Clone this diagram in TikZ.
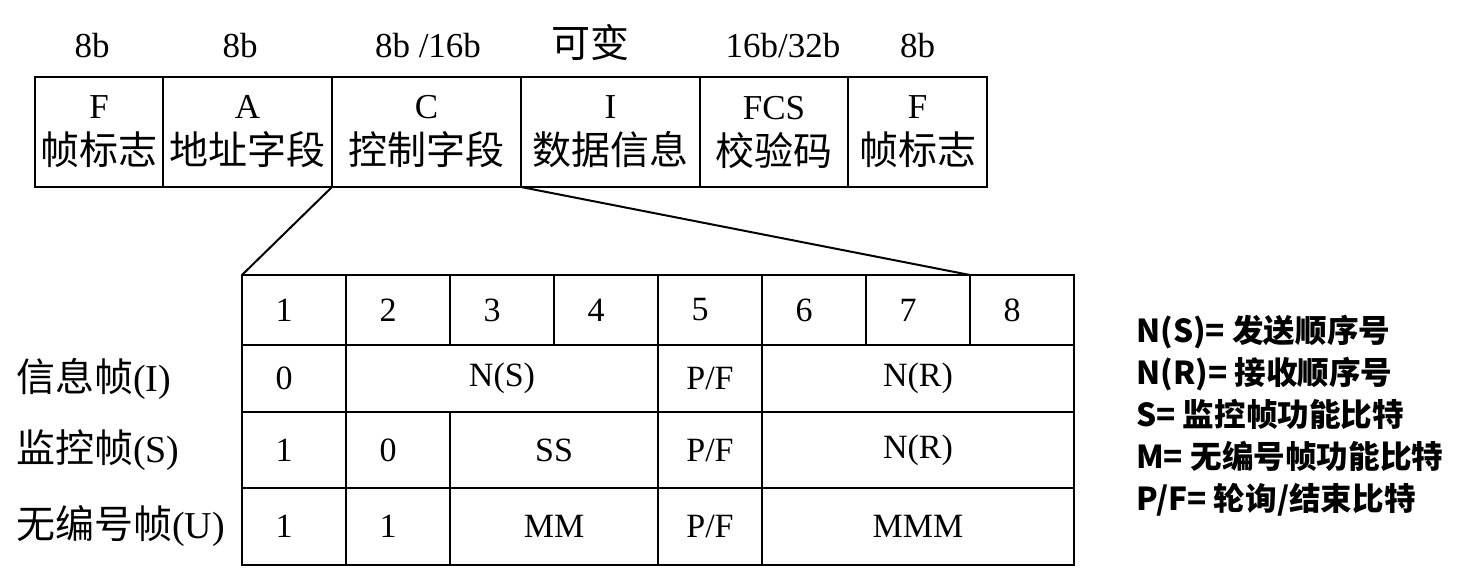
\documentclass[tikz,border=0pt]{standalone}
\usepackage{fontspec}
\setmainfont{Liberation Serif}
\newfontfamily\cjk{Noto Sans CJK SC}
\usetikzlibrary{positioning}
\newcommand{\hanzi}[1]{{\cjk\fontsize{19.5pt}{23pt}\selectfont #1}}

\begin{document}
\begin{tikzpicture}[x=0.5pt, y=-0.5pt, line width=1.2pt,
    every node/.style={font=\fontsize{17.5pt}{23pt}\selectfont},
    field/.style={draw, outer sep=0pt, inner sep=0pt, minimum height=55pt, align=center},
    bitlen/.style={inner sep=0pt},
    cell/.style={draw, outer sep=0pt, inner sep=0pt, minimum width=52pt, font=\fontsize{17pt}{20pt}\selectfont},
    cols/.style={minimum width=#1*52pt},
    bit/.style={cell, execute at end node=\hspace{10pt}},
    hrow/.style={minimum height=35pt},
    irow/.style={minimum height=33.5pt},
    srow/.style={minimum height=38pt},
    urow/.style={minimum height=38.5pt},
    rowlabel/.style={anchor=west, inner sep=0pt, font=\fontsize{19pt}{20pt}\selectfont},
    legend/.style={anchor=west, align=left, inner sep=0pt, font=\cjk\bfseries\fontsize{15.8pt}{21pt}\selectfont}]
    \useasboundingbox (0,0) rectangle (1476,585);

    % Frame fields
    \node[field, minimum width=64pt, anchor=north west] (fF1) at (35,77) {F\\\hanzi{帧标志}};
    \node[field, minimum width=84.5pt, right=0pt of fF1] (fA) {A\\\hanzi{地址字段}};
    \node[field, minimum width=94.5pt, right=0pt of fA] (fC) {C\\\hanzi{控制字段}};
    \node[field, minimum width=89.5pt, right=0pt of fC] (fI) {I\\\hanzi{数据信息}};
    \node[field, minimum width=74pt, right=0pt of fI] (fFCS) {FCS\\\hanzi{校验码}};
    \node[field, minimum width=69.5pt, right=0pt of fFCS] (fF2) {F\\\hanzi{帧标志}};

    % Field lengths
    \node[bitlen, above=10pt of fF1, anchor=base, xshift=-3.5pt] (lF1) {8b};
    \node[bitlen, above=10pt of fA, anchor=base, xshift=-3.75pt] (lA) {8b};
    \node[bitlen, above=10pt of fC, anchor=base, xshift=0.75pt] (lC) {8b /16b};
    \node[bitlen, above=10pt of fI, anchor=base, xshift=-10.25pt] (lI) {\hanzi{可变}};
    \node[bitlen, above=10pt of fFCS, anchor=base, xshift=4.5pt] (lFCS) {16b/32b};
    \node[bitlen, above=10pt of fF2, anchor=base] (lF2) {8b};

    % Control field bits
    \node[bit, hrow, anchor=north west] (b1) at (242,275) {1};
    \node[bit, hrow, right=0pt of b1] (b2) {2};
    \node[bit, hrow, right=0pt of b2] (b3) {3};
    \node[bit, hrow, right=0pt of b3] (b4) {4};
    \node[bit, hrow, right=0pt of b4] (b5) {5};
    \node[bit, hrow, right=0pt of b5] (b6) {6};
    \node[bit, hrow, right=0pt of b6] (b7) {7};
    \node[bit, hrow, right=0pt of b7] (b8) {8};

    % Information frame
    \node[bit, irow, below=0pt of b1] (i1) {0};
    \node[cell, irow, cols=3, right=0pt of i1] (iNS) {N(S)};
    \node[cell, irow, right=0pt of iNS] (iPF) {P/F};
    \node[cell, irow, cols=3, right=0pt of iPF] (iNR) {N(R)};

    % Supervisory frame
    \node[bit, srow, below=0pt of i1] (s1) {1};
    \node[bit, srow, right=0pt of s1] (s2) {0};
    \node[cell, srow, cols=2, right=0pt of s2] (sSS) {SS};
    \node[cell, srow, right=0pt of sSS] (sPF) {P/F};
    \node[cell, srow, cols=3, right=0pt of sPF] (sNR) {N(R)};

    % Unnumbered frame
    \node[bit, urow, below=0pt of s1] (u1) {1};
    \node[bit, urow, right=0pt of u1] (u2) {1};
    \node[cell, urow, cols=2, right=0pt of u2] (uMM) {MM};
    \node[cell, urow, right=0pt of uMM] (uPF) {P/F};
    \node[cell, urow, cols=3, right=0pt of uPF] (uMMM) {MMM};

    % Row labels
    \node[rowlabel] (nI) at (15,0 |- i1) {\hanzi{信息帧}(I)};
    \node[rowlabel] (nS) at (15,0 |- s1) {\hanzi{监控帧}(S)};
    \node[rowlabel] (nU) at (15,0 |- u1) {\hanzi{无编号帧}(U)};

    % Zoom lines
    \draw[line width=1pt] (fC.south west) -- (b1.north west);
    \draw[line width=1pt] (fC.south east) -- (b8.north west);

    % Key
    \node[legend] (key) at (1135,416) {N(S)=\ 发送顺序号\\N(R)=\ 接收顺序号\\S=\ 监控帧功能比特\\M=\ 无编号帧功能比特\\P/F=\ 轮询/结束比特};
\end{tikzpicture}
\end{document}
